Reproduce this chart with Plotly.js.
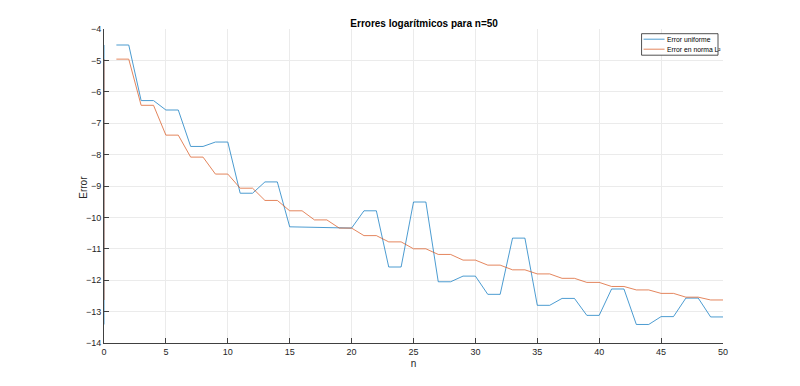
<!DOCTYPE html>
<html>
<head>
<meta charset="utf-8">
<script src="https://cdn.plot.ly/plotly-3.0.1.min.js"></script>
<style>html,body{margin:0;padding:0;background:#fff;}#chart{width:800px;height:386px;}</style>
</head>
<body>
<div id="chart"></div>
<script>
// n values 1..50
var n = [];
for (var i = 1; i <= 50; i++) n.push(i);

// Error uniforme (log), n = 1..50
var errUniforme = [
  -4.51, -4.51, -6.28, -6.28, -6.58, -6.58, -7.74, -7.74, -7.60, -7.60,
  -9.23, -9.23, -8.87, -8.87, -10.30, -10.31, -10.32, -10.33, -10.34, -10.34,
  -9.79, -9.79, -11.58, -11.58, -9.51, -9.51, -12.05, -12.05, -11.87, -11.87,
  -12.45, -12.45, -10.66, -10.66, -12.80, -12.80, -12.58, -12.58, -13.12, -13.12,
  -12.28, -12.28, -13.41, -13.41, -13.16, -13.16, -12.57, -12.57, -13.17, -13.17
];
// Error en norma L2 (log), n = 1..50
var errL2 = [
  -4.96, -4.96, -6.43, -6.43, -7.38, -7.38, -8.08, -8.08, -8.62, -8.62,
  -9.07, -9.07, -9.46, -9.46, -9.79, -9.79, -10.08, -10.08, -10.34, -10.34,
  -10.58, -10.58, -10.78, -10.78, -11.00, -11.00, -11.18, -11.18, -11.36, -11.36,
  -11.52, -11.52, -11.67, -11.67, -11.80, -11.80, -11.94, -11.94, -12.07, -12.07,
  -12.20, -12.20, -12.31, -12.31, -12.42, -12.42, -12.54, -12.54, -12.63, -12.63
];
// vertical segment drawn at n = 0
var n0 = [0, 0];
var uniformeAt0 = [-13.41, -4.51];
var l2At0 = [-12.63, -4.96];

var seriesNames = ['Error uniforme', 'Error en norma L²'];

var blue = '#0072BD', orange = '#D95319';
var xs = n0.concat([null]).concat(n);
var yU = uniformeAt0.concat([null]).concat(errUniforme);
var yL = l2At0.concat([null]).concat(errL2);

var traces = [
  {x: xs, y: yU, type: 'scatter', mode: 'lines', name: seriesNames[0],
   line: {color: blue, width: 1}, opacity: 0.7, connectgaps: false, showlegend: false},
  {x: xs, y: yL, type: 'scatter', mode: 'lines', name: seriesNames[1],
   line: {color: orange, width: 1}, opacity: 0.7, connectgaps: false, showlegend: false}
];

var FONT = 'Liberation Sans, Arial, sans-serif';
var axisCommon = {
  showgrid: true, gridcolor: '#ebebeb', gridwidth: 1,
  zeroline: false, showline: true, linecolor: '#404040', linewidth: 1,
  ticks: 'inside', ticklen: 5, tickcolor: '#404040', tickwidth: 1,
  tickfont: {family: FONT, size: 9, color: '#262626'},
  mirror: false
};

// legend box geometry in pixels, converted to paper coords
var W = 800, H = 386, L = 104, R = 76.5, T = 29.3, B = 42.7;
var pw = W - L - R, ph = H - T - B;
function px(x) { return (x - L) / pw; }
function py(y) { return (H - B - y) / ph; }

var colors = [blue, orange];
var rowY = [39.5, 49.5];
var shapes = [{type: 'rect', xref: 'paper', yref: 'paper',
  x0: px(642), x1: px(718.5), y0: py(55.5), y1: py(34),
  line: {color: '#262626', width: 0.8}, fillcolor: '#ffffff', layer: 'above'}];
var annotations = [];
for (var k = 0; k < 2; k++) {
  shapes.push({type: 'line', xref: 'paper', yref: 'paper',
    x0: px(644), x1: px(665), y0: py(rowY[k]), y1: py(rowY[k]),
    line: {color: colors[k], width: 1}, opacity: 0.7, layer: 'above'});
  annotations.push({xref: 'paper', yref: 'paper', x: px(665.5), y: py(rowY[k]),
    xanchor: 'left', yanchor: 'middle', showarrow: false, text: seriesNames[k],
    font: {family: FONT, size: 6.8, color: '#000'}});
}
// y-axis title placed as rotated text
annotations.push({xref: 'paper', yref: 'paper', x: px(84), y: py(188),
  xanchor: 'center', yanchor: 'middle', showarrow: false, text: 'Error', textangle: -90,
  font: {family: FONT, size: 10, color: '#262626'}});

var layout = {
  width: W, height: H,
  paper_bgcolor: '#ffffff', plot_bgcolor: '#ffffff',
  margin: {l: L, r: R, t: T, b: B},
  showlegend: false,
  title: {text: '<b>Errores logarítmicos para n=50</b>', x: 0.5172, xanchor: 'center',
          xref: 'paper', y: 1 - 23 / H, yanchor: 'middle',
          font: {family: FONT, size: 10, color: '#000'}},
  xaxis: Object.assign({}, axisCommon, {
    range: [0, 50], tick0: 0, dtick: 5, fixedrange: true,
    title: {text: 'n', standoff: 4, font: {family: FONT, size: 10, color: '#262626'}}
  }),
  yaxis: Object.assign({}, axisCommon, {
    range: [-14, -4], tick0: -14, dtick: 1, fixedrange: true
  }),
  shapes: shapes,
  annotations: annotations
};

Plotly.newPlot('chart', traces, layout, {displayModeBar: false, staticPlot: true});
</script>
</body>
</html>
